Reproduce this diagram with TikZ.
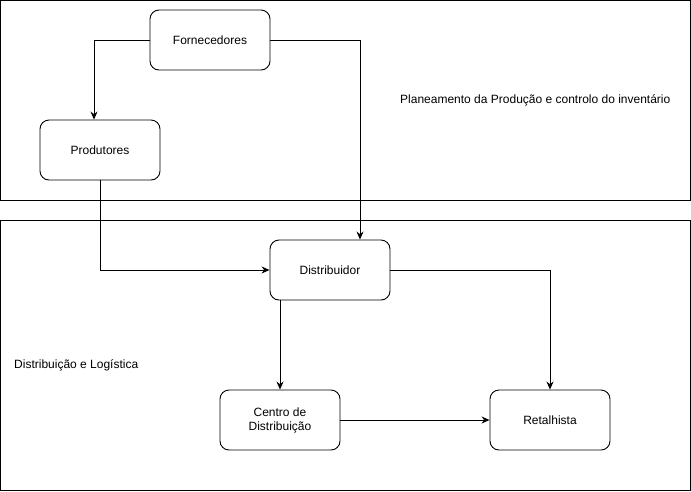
\documentclass[tikz,border=0pt]{standalone}
\usepackage{fontspec}
\setmainfont{Liberation Sans}
\usetikzlibrary{arrows.meta}
\tikzset{
  font={\fontsize{12pt}{14pt}\selectfont},
  box/.style={draw, rounded corners=9pt, line width=0.9pt,
    minimum width=120pt, minimum height=60pt, align=center, inner sep=0pt},
  area/.style={draw, line width=0.9pt},
  areatext/.style={anchor=west, inner sep=0pt},
  link/.style={draw, line width=0.9pt, -{Stealth[length=8pt,width=7pt]}}}

\begin{document}
\begin{tikzpicture}[x=1pt,y=-1pt]
\useasboundingbox (0,0) rectangle (691,491);
% two areas
\draw [area] (0.5,0.5) rectangle (690.5,200.5);
\draw [area] (0.5,220.5) rectangle (690.5,490.5);
\node [areatext] (plan) at (400,100) {Planeamento da Produção e controlo do inventário};
\node [areatext] (dlog) at (14,365) {Distribuição e Logística};
% boxes
\node [box] (forn) at (210,40) {Fornecedores};
\node [box] (prod) at (100,150) {Produtores};
\node [box] (dist) at (330,270) {Distribuidor};
\node [box] (cent) at (280,420) {Centro de\\Distribuição};
\node [box] (ret) at (550,420) {Retalhista};
% links
\draw [link] (forn.west) -| ([xshift=-6pt]prod.north);
\draw [link] (forn.east) -| ([xshift=30pt]dist.north);
\draw [link] (prod.south) |- (dist.west);
\draw [link] ([xshift=-50pt]dist.south) -- (cent.north);
\draw [link] (dist.east) -| (ret.north);
\draw [link] (cent.east) -- (ret.west);
\end{tikzpicture}
\end{document}
